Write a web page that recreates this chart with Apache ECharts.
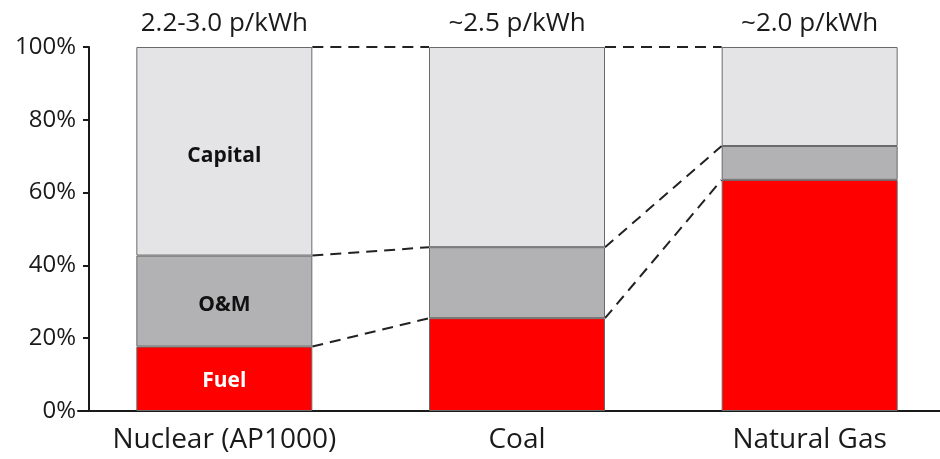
<!DOCTYPE html>
<html>
<head>
<meta charset="utf-8">
<script src="https://cdn.jsdelivr.net/npm/echarts@6/dist/echarts.min.js"></script>
<style>
  html, body { margin: 0; padding: 0; background: #ffffff; }
  #chart { width: 940px; height: 459px; }
</style>
</head>
<body>
<div id="chart"></div>
<script>
// Levelised generation cost split (% of total) by plant type
const categories = ['Nuclear (AP1000)', 'Coal', 'Natural Gas'];
const costLabels = ['2.2-3.0 p/kWh', '~2.5 p/kWh', '~2.0 p/kWh'];
const fuelShare = [17.7, 25.5, 63.5];
const omShare = [25.0, 19.5, 9.3];
const capitalShare = [57.3, 55.0, 27.2];
const yTicks = [0, 20, 40, 60, 80, 100];

const FONT = '"Open Sans", "Noto Sans", sans-serif';
const BAR_W = 176;

// cumulative tops of each stacked segment, used for the dashed connectors
const fuelTop = fuelShare.slice();
const omTop = fuelShare.map((v, i) => v + omShare[i]);
const capTop = omTop.map((v, i) => v + capitalShare[i]);
const connectors = [];
for (let i = 0; i < categories.length - 1; i++) {
  connectors.push([i, fuelTop[i], fuelTop[i + 1]]);
  connectors.push([i, omTop[i], omTop[i + 1]]);
  connectors.push([i, capTop[i], capTop[i + 1]]);
}

const segBorder = { borderColor: '#6a6a6a', borderWidth: 1 };

// only the first bar carries the segment names
function segData(values, labelText, labelColor, dy) {
  return values.map((v, i) => {
    if (i !== 0) return v;
    return {
      value: v,
      label: {
        show: true, position: 'inside', formatter: labelText, offset: [0, dy],
        color: labelColor, fontFamily: FONT, fontWeight: 'bold', fontSize: 21
      }
    };
  });
}

const chart = echarts.init(document.getElementById('chart'));
chart.setOption({
  backgroundColor: '#ffffff',
  animation: false,
  grid: { left: 78, width: 878, top: 47, bottom: 48, containLabel: false, outerBoundsMode: 'none' },
  xAxis: {
    type: 'category',
    data: categories,
    axisLine: { show: true, lineStyle: { color: '#1a1a1a', width: 2 } },
    axisTick: { show: false },
    axisLabel: { interval: 0, color: '#1a1a1a', fontFamily: FONT, fontSize: 28, margin: 15 },
    splitLine: { show: false }
  },
  yAxis: {
    type: 'value',
    min: 0, max: 100, interval: 20,
    offset: -11,
    axisLine: { show: true, lineStyle: { color: '#1a1a1a', width: 2 } },
    axisTick: { show: true, length: 6, lineStyle: { color: '#1a1a1a', width: 2 } },
    axisLabel: {
      color: '#1a1a1a', fontFamily: FONT, fontSize: 24, margin: 13,
      formatter: v => (yTicks.includes(v) ? v + '%' : '')
    },
    splitLine: { show: false }
  },
  series: [
    {
      name: 'Fuel', type: 'bar', stack: 'cost', barWidth: BAR_W,
      itemStyle: Object.assign({ color: '#ff0000' }, segBorder),
      data: segData(fuelShare, 'Fuel', '#ffffff', 2)
    },
    {
      name: 'O&M', type: 'bar', stack: 'cost', barWidth: BAR_W,
      itemStyle: Object.assign({ color: '#b2b1b3' }, segBorder),
      data: segData(omShare, 'O&M', '#111111', 4)
    },
    {
      name: 'Capital', type: 'bar', stack: 'cost', barWidth: BAR_W,
      itemStyle: Object.assign({ color: '#e4e3e6' }, segBorder),
      data: capitalShare.map((v, i) => ({
        value: v,
        label: {
          show: true, position: 'top', distance: 10,
          formatter: costLabels[i],
          color: '#1a1a1a', fontFamily: FONT, fontSize: 26
        }
      }))
    },
    {
      // invisible spacer so the "Capital" name can sit inside the first capital block
      name: 'spacer', type: 'bar', stack: 'labels', barWidth: BAR_W,
      barGap: '-100%', silent: true,
      itemStyle: { color: 'transparent' },
      data: omTop.map((v, i) => (i === 0 ? v : null))
    },
    {
      name: 'capitalName', type: 'bar', stack: 'labels', barWidth: BAR_W,
      silent: true,
      itemStyle: { color: 'transparent' },
      data: segData(capitalShare.map((v, i) => (i === 0 ? v : null)), 'Capital', '#111111', 5)
    },
    {
      // dashed lines joining matching segment edges of neighbouring bars
      name: 'connectors', type: 'custom', silent: true,
      encode: { x: 0, y: [1, 2] },
      data: connectors,
      renderItem: function (params, api) {
        const i = api.value(0);
        const p1 = api.coord([i, api.value(1)]);
        const p2 = api.coord([i + 1, api.value(2)]);
        const half = BAR_W / 2;
        return {
          type: 'line',
          shape: { x1: p1[0] + half, y1: p1[1], x2: p2[0] - half, y2: p2[1] },
          style: { stroke: '#222222', lineWidth: 2, lineDash: [11, 7] }
        };
      }
    }
  ]
});
</script>
</body>
</html>
